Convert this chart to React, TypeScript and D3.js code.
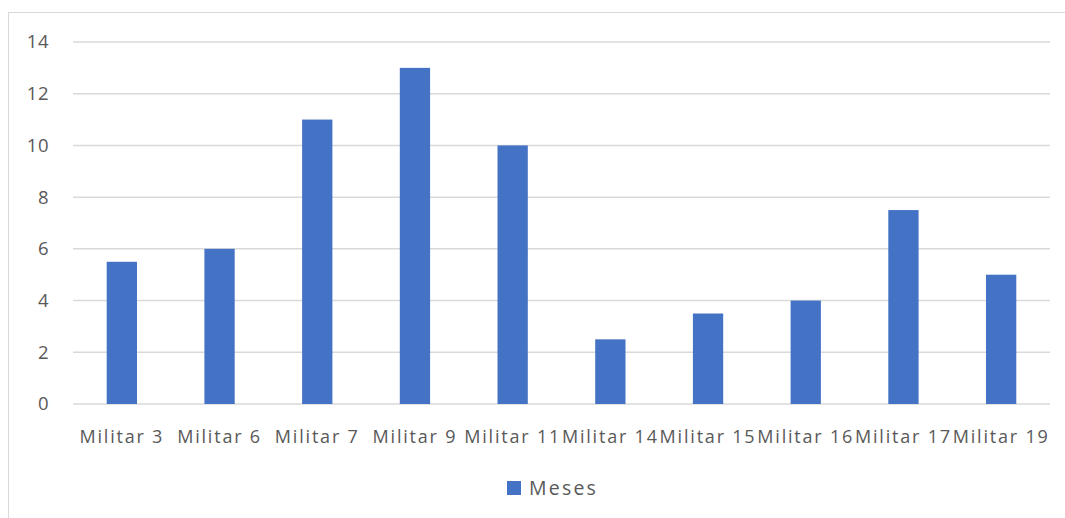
import React from "react";
import * as d3 from "d3";

const categories = ["Militar 3", "Militar 6", "Militar 7", "Militar 9", "Militar 11", "Militar 14", "Militar 15", "Militar 16", "Militar 17", "Militar 19"];
const meses = [5.5, 6, 11, 13, 10, 2.5, 3.5, 4, 7.5, 5];
const yTicks = [0, 2, 4, 6, 8, 10, 12, 14];
const seriesName = "Meses";

export default function App() {
  const W = 1065, H = 518;
  const left = 73, right = 1050, top = 42, bottom = 404;
  const x = d3.scaleBand<string>().domain(categories).range([left, right]).paddingInner(0.69).paddingOuter(0.345);
  const y = d3.scaleLinear().domain([0, 14]).range([bottom, top]);
  const font = "'Open Sans', 'Liberation Sans', sans-serif";
  const color = "#4472C4";
  const textColor = "#595959";
  return (
    <svg width={W} height={H} style={{ position: "absolute", left: 0, top: 0 }}>
      <rect x={8.5} y={12.5} width={1070} height={520} fill="#fff" stroke="#d9d9d9" strokeWidth={1} />
      {yTicks.map((t) => (
        <g key={t}>
          <line x1={left} x2={right} y1={y(t)} y2={y(t)} stroke="#d9d9d9" strokeWidth={1.5} />
          <text x={49} y={y(t)} dy="0.35em" textAnchor="end" fontFamily={font} fontSize={18.5} letterSpacing={0.5} fill={textColor}>{t}</text>
        </g>
      ))}
      {categories.map((c, i) => (
        <rect key={c} x={x(c)} y={y(meses[i])} width={x.bandwidth()} height={y(0) - y(meses[i])} fill={color} />
      ))}
      {categories.map((c) => (
        <text key={c} x={(x(c) as number) + x.bandwidth() / 2} y={437} dy="0.35em" textAnchor="middle" fontFamily={font} fontSize={18} letterSpacing={1.8} fill={textColor}>{c}</text>
      ))}
      <rect x={507} y={481} width={14} height={14} fill={color} />
      <text x={529} y={488} dy="0.35em" fontFamily={font} fontSize={19.5} letterSpacing={2.2} fill={textColor}>{seriesName}</text>
    </svg>
  );
}
